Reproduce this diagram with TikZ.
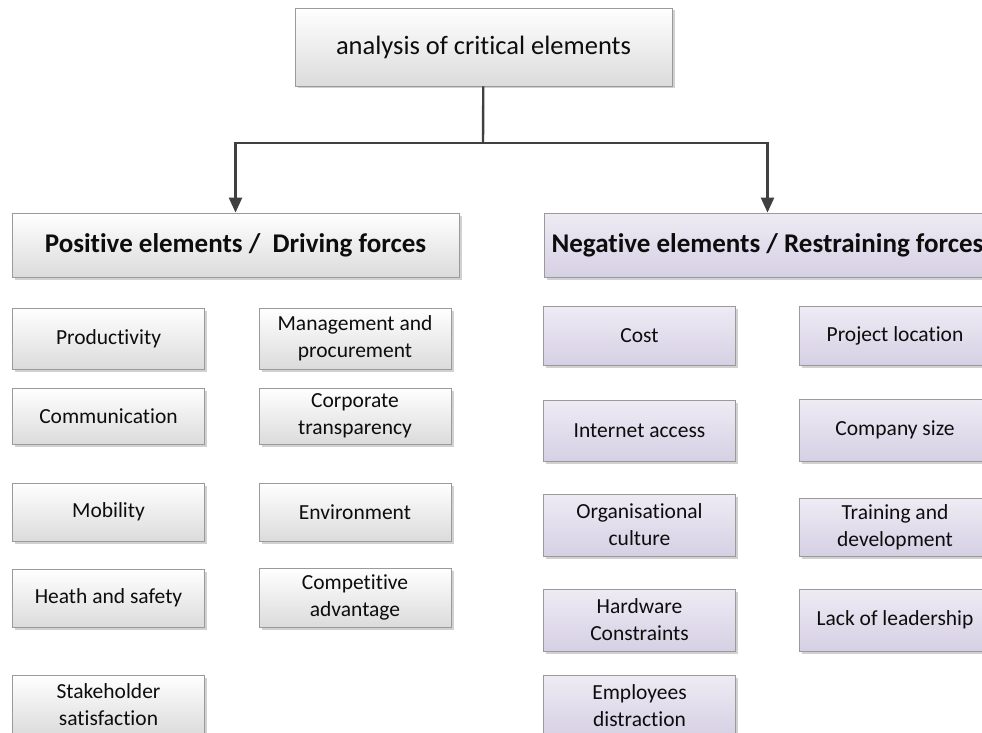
\documentclass[tikz,border=0pt]{standalone}
\usepackage{fontspec}
\setmainfont[Ligatures={NoCommon,NoContextual}, Contextuals=NoAlternate]{Carlito}
\usetikzlibrary{arrows.meta,shadows}

\definecolor{lineGray}{HTML}{404040}
\definecolor{frameGray}{HTML}{9A9A9A}
\definecolor{lilacTop}{HTML}{EEEBF4}
\definecolor{lilacBot}{HTML}{D6D0E4}

\begin{document}
\begin{tikzpicture}[x=1pt,y=-1pt,
    box/.style={draw=frameGray, line width=0.8pt, top color=white, bottom color=black!14,
      drop shadow={shadow xshift=2.5pt, shadow yshift=-2.5pt, fill=black, opacity=0.18},
      minimum width=192pt, minimum height=60pt, inner sep=0pt, align=center,
      text=black!95, font=\fontsize{21.5}{27}\selectfont},
    negbox/.style={box, top color=lilacTop, bottom color=lilacBot},
    head/.style={minimum width=447pt, minimum height=64pt, font=\fontsize{27}{30}\selectfont\bfseries},
    conn/.style={draw=lineGray, line width=2.4pt, -{Triangle[width=13pt,length=15pt]}}]
  \useasboundingbox (0,0) rectangle (982,733);

  % top of the tree
  \node[box, minimum width=377pt, minimum height=78pt, font=\fontsize{26.5}{30}\selectfont]
    (top) at (483.5,47) {analysis of critical elements};

  % the two groups
  \node[box, head] (posHead) at (235.5,245) {Positive elements /\ \ Driving forces};
  \node[negbox, head] (negHead) at (767.5,245) {Negative elements / Restraining forces};

  \coordinate (split) at (483,143);
  \draw[conn, -] (top) -- (split);
  \draw[conn] (split) -| (posHead.north);
  \draw[conn] (split) -| (negHead.north);

  % driving forces
  \node[box, minimum height=61pt] (prod) at (108.5,338.5) {Productivity};
  \node[box, minimum height=56pt] (comm) at (108.5,416) {Communication};
  \node[box, minimum height=58pt] (mob) at (108.5,512) {Mobility};
  \node[box, minimum height=58pt] (health) at (108.5,598) {Heath and safety};
  \node[box] (stake) at (108.5,705) {Stakeholder\\satisfaction};

  \node[box, minimum height=61pt] (mgmt) at (355,338.5) {Management and\\procurement};
  \node[box, minimum height=56pt] (corp) at (355,416) {Corporate\\transparency};
  \node[box, minimum height=58pt] (env) at (355,512) {Environment};
  \node[box, minimum height=59pt] (comp) at (355,597.5) {Competitive\\advantage};

  % restraining forces
  \node[negbox, minimum height=59pt] (cost) at (639.5,335.5) {Cost};
  \node[negbox, minimum height=61pt] (inet) at (639.5,430.5) {Internet access};
  \node[negbox, minimum height=62pt] (org) at (639.5,525) {Organisational\\culture};
  \node[negbox, minimum height=62pt] (hw) at (639.5,620) {Hardware\\Constraints};
  \node[negbox, minimum height=62pt] (staff) at (639.5,706) {Employees\\distraction};

  \node[negbox, minimum height=59pt] (loc) at (895,335.5) {Project location};
  \node[negbox, minimum height=62pt] (size) at (895,430) {Company size};
  \node[negbox, minimum height=58pt] (train) at (895,527) {Training and\\development};
  \node[negbox, minimum height=62pt] (lead) at (895,620) {Lack of leadership};
\end{tikzpicture}
\end{document}
